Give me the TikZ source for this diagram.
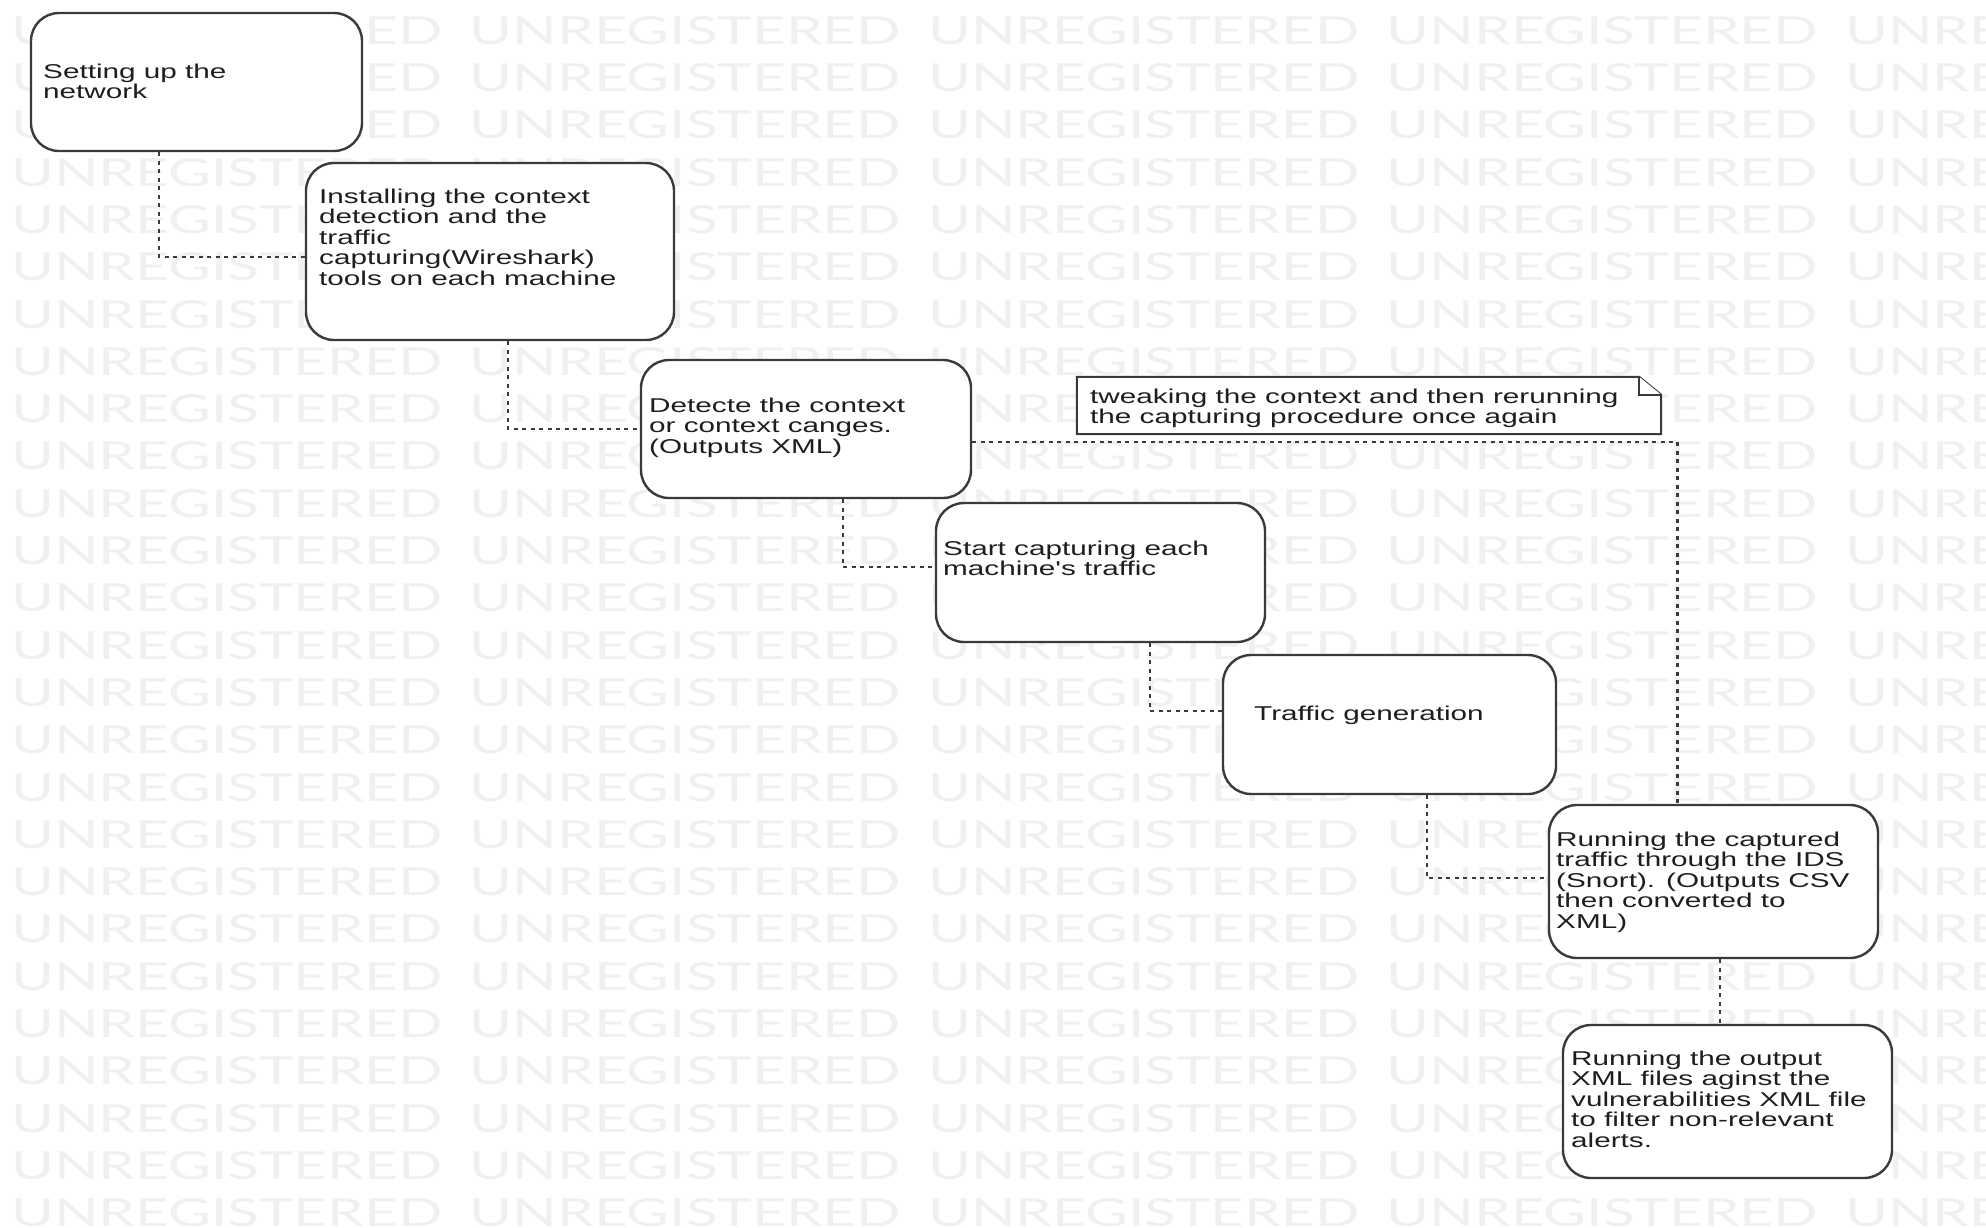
\documentclass[tikz,border=0pt]{standalone}
\usepackage{fontspec}
\usetikzlibrary{fit}
\newfontfamily\boxfont[FakeStretch=1.485]{Liberation Sans}
\newfontfamily\wmfont{Lato}
\definecolor{wmgray}{HTML}{F0F0F0}
\definecolor{edge}{HTML}{3A3A3A}
\definecolor{dash}{HTML}{3A3A3A}
\definecolor{ink}{HTML}{1E1E1E}
\newcommand{\fl}{\rule{0pt}{16pt}}
\tikzset{
  wm/.style={inner sep=0pt, anchor=north west, text=wmgray},
  stepbox/.style={draw=edge, line width=2.4pt, fill=white, rounded corners=28pt, inner sep=0pt},
  lbl/.style={inner sep=0pt, anchor=north west, align=left, text=ink,
    font=\boxfont\fontsize{20}{20.5}\selectfont},
  conn/.style={draw=dash, line width=2.6pt, dash pattern=on 4pt off 4.5pt},
  notebox/.style={draw=edge, line width=2pt, fill=white, line join=miter}
}
\begin{document}
\begin{tikzpicture}[x=1pt,y=-1pt]
\useasboundingbox (0,0) rectangle (1986,1227);
\fill[white] (0,0) rectangle (1986,1227);
% watermark
\begin{scope}
\clip (0,0) rectangle (1986,1227);
\foreach \k in {0,...,25}{
  \foreach \j in {0,...,4}{
    \node[wm] (wm-\k-\j) at ({11+458.5*\j},{16+47.3*\k}) {\resizebox{431pt}{28pt}{\wmfont UNREGISTERED}};
  }
}
\end{scope}
% boxes
\node[stepbox, fit={(31,13) (362,151)}] (b1) {};
\node[stepbox, fit={(306,163) (674,340)}] (b2) {};
\node[stepbox, fit={(641,360) (971,498)}] (b3) {};
\node[stepbox, fit={(936,503) (1265,642)}] (b4) {};
\node[stepbox, fit={(1223,655) (1556,794)}] (b5) {};
\node[stepbox, fit={(1549,805) (1878,958)}] (b6) {};
\node[stepbox, fit={(1563,1025) (1892,1178)}] (b7) {};
% note
\node[inner sep=0pt, fit={(1077,377) (1661,434)}] (note) {};
\draw[notebox] (note.north west) -- ([xshift=-22pt]note.north east) -- ([yshift=-18pt]note.north east) -- (note.south east) -- (note.south west) -- cycle;
\draw[notebox] ([xshift=-22pt]note.north east) -- ([xshift=-22pt,yshift=-18pt]note.north east) -- ([yshift=-18pt]note.north east);
% labels
\node[lbl] (t1) at (43,62) {\fl Setting up the\\network};
\node[lbl] (t2) at (319,187) {\fl Installing the context\\detection and the\\traffic\\capturing(Wireshark)\\tools on each machine};
\node[lbl] (t3) at (649,396) {\fl Detecte the context\\or context canges.\\(Outputs XML)};
\node[lbl] (t4) at (943,539) {\fl Start capturing each\\machine's traffic};
\node[lbl] (t5) at (1254,704) {\fl Traffic generation};
\node[lbl] (t6) at (1556,830) {\fl Running the captured\\traffic through the IDS\\(Snort). (Outputs CSV\\then converted to\\XML)};
\node[lbl] (t7) at (1571,1049) {\fl Running the output\\XML files aginst the\\vulnerabilities XML file\\to filter non-relevant\\alerts.};
\node[lbl] (tn) at (1090,387) {\fl tweaking the context and then rerunning\\the capturing procedure once again};
% connectors
\draw[conn] ([xshift=-37.5pt]b1.south) |- ([yshift=-5.5pt]b2.west);
\draw[conn] ([xshift=18pt]b2.south) |- (b3.west);
\draw[conn] ([xshift=37pt]b3.south) |- ([yshift=5.5pt]b4.west);
\draw[conn] ([xshift=49.5pt]b4.south) |- ([yshift=13.5pt]b5.west);
\draw[conn] ([xshift=37.5pt]b5.south) |- ([yshift=3.5pt]b6.west);
\draw[conn] ([xshift=6.5pt]b6.south) -- ([xshift=6.5pt]b6.south |- b7.north);
\draw[conn] ([yshift=-13pt]b3.east) -| ([xshift=-36pt]b6.north);
\end{tikzpicture}
\end{document}
